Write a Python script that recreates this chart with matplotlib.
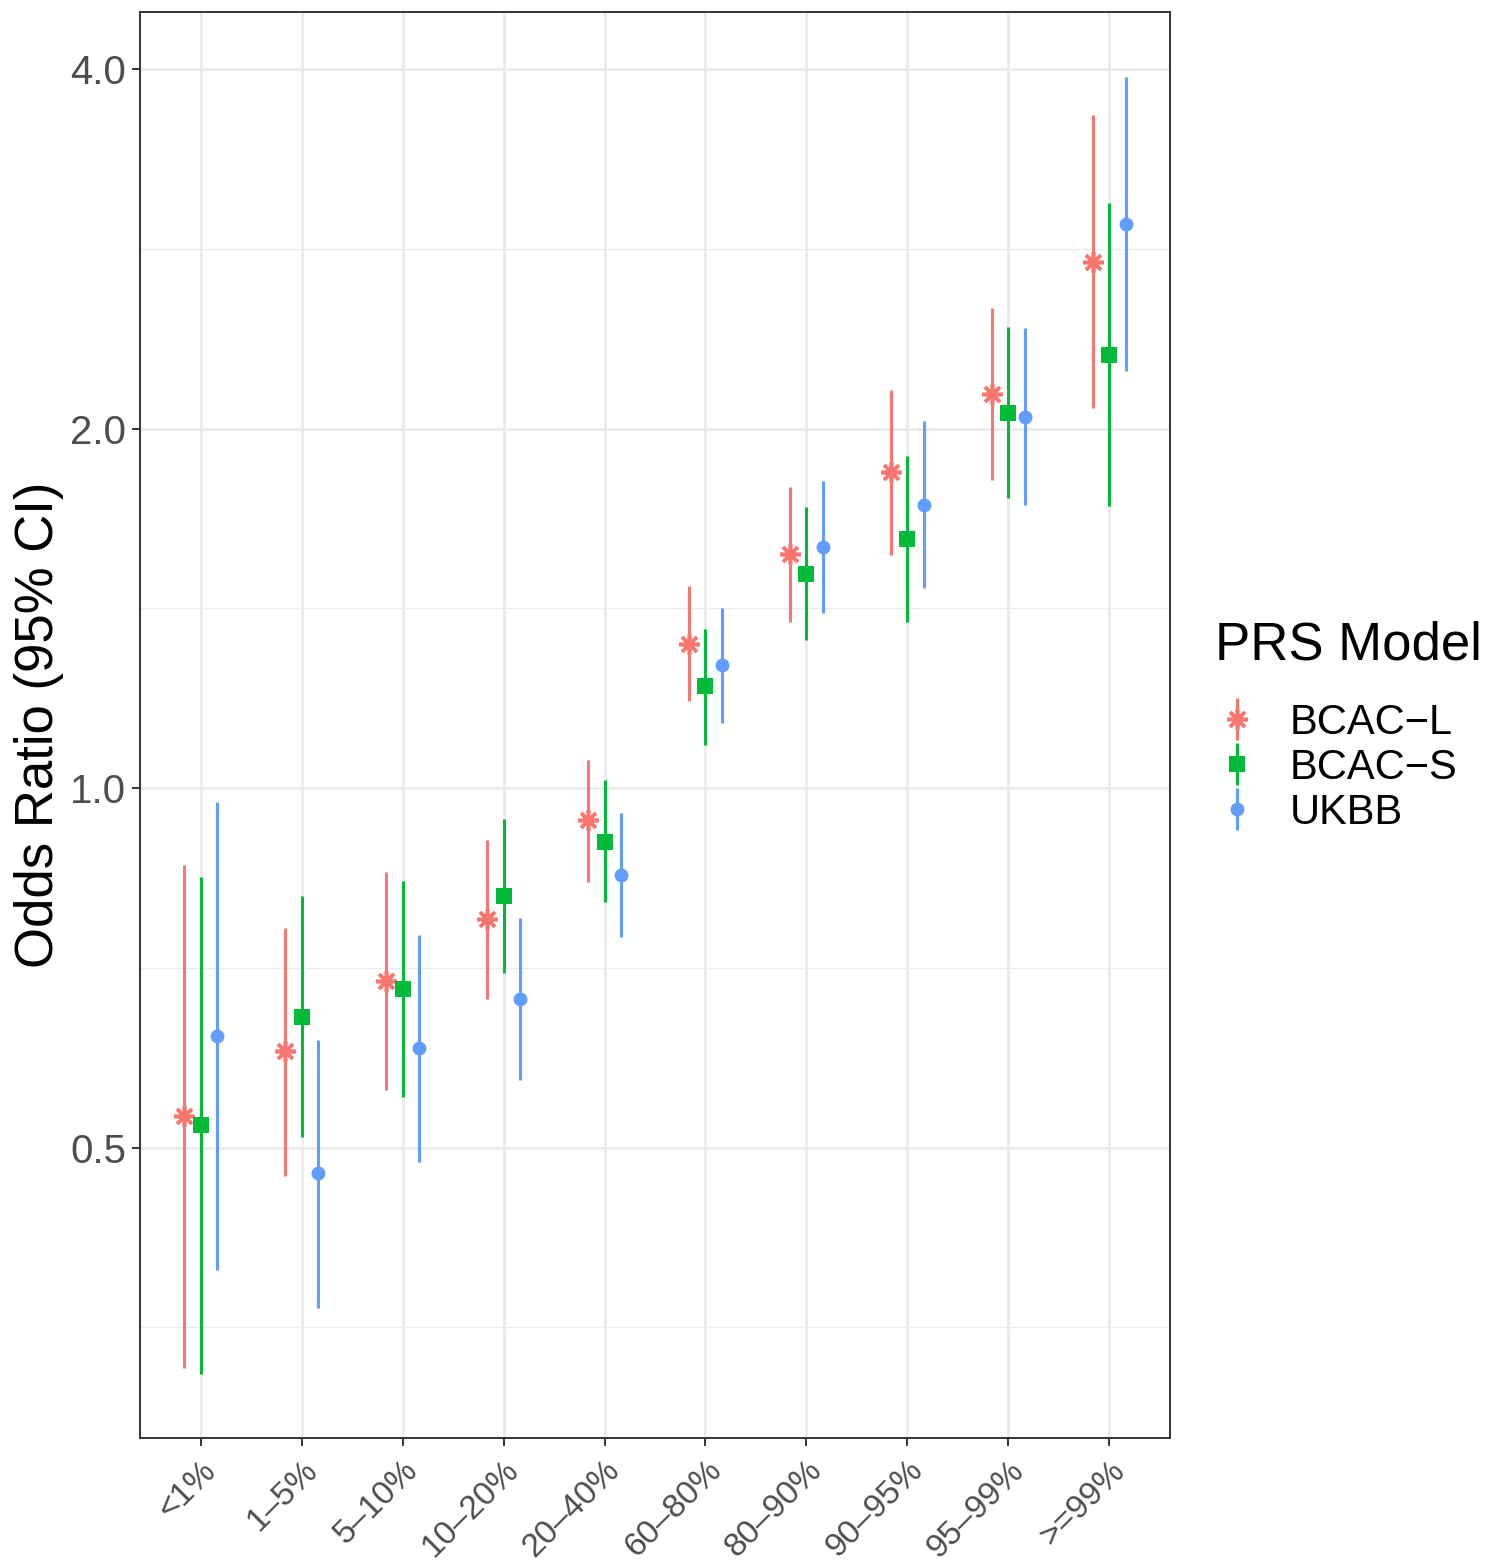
import numpy as np
import matplotlib
matplotlib.use("Agg")
import matplotlib.pyplot as plt
from matplotlib.ticker import FixedLocator, NullFormatter

plt.rcParams['font.family'] = ['Liberation Sans', 'DejaVu Sans']

categories = ["<1%", "1\u20135%", "5\u201310%", "10\u201320%", "20\u201340%",
              "60\u201380%", "80\u201390%", "90\u201395%", "95\u201399%", ">=99%"]
models = ["BCAC\u2212L", "BCAC\u2212S", "UKBB"]

or_L = [0.531, 0.602, 0.689, 0.777, 0.940, 1.320, 1.570, 1.839, 2.137, 2.757]
lo_L = [0.327, 0.473, 0.559, 0.666, 0.834, 1.183, 1.377, 1.567, 1.811, 2.081]
hi_L = [0.862, 0.763, 0.851, 0.905, 1.055, 1.476, 1.787, 2.154, 2.523, 3.661]

or_S = [0.522, 0.643, 0.679, 0.812, 0.901, 1.217, 1.511, 1.616, 2.061, 2.305]
lo_S = [0.323, 0.510, 0.551, 0.700, 0.803, 1.086, 1.330, 1.377, 1.749, 1.722]
hi_S = [0.842, 0.812, 0.836, 0.942, 1.015, 1.359, 1.719, 1.897, 2.432, 3.089]

or_U = [0.620, 0.476, 0.606, 0.666, 0.846, 1.268, 1.591, 1.726, 2.045, 2.967]
lo_U = [0.395, 0.367, 0.486, 0.569, 0.750, 1.134, 1.401, 1.470, 1.726, 2.235]
hi_U = [0.973, 0.615, 0.753, 0.778, 0.953, 1.415, 1.807, 2.029, 2.428, 3.939]

colors = ["#F8766D", "#00BA38", "#619CFF"]
markers = [(8, 2, 0), "s", "o"]
msizes = [15, 11.5, 10]
offsets = [-1 / 6, 0, 1 / 6]

W, H = 1489, 1567
fig = plt.figure(figsize=(W / 100, H / 100), dpi=100)
ax = fig.add_axes([140 / W, 1 - 1438 / H, (1170 - 140) / W, (1438 - 12) / H])

x = np.arange(len(categories))
series = [(or_L, lo_L, hi_L), (or_S, lo_S, hi_S), (or_U, lo_U, hi_U)]
handles = []
for (est, lo, hi), c, m, ms, off, lab in zip(series, colors, markers, msizes, offsets, models):
    est = np.array(est); lo = np.array(lo); hi = np.array(hi)
    h = ax.errorbar(x + off, est, yerr=[est - lo, hi - est], linestyle='none',
                    marker=m, color=c, markersize=ms, ecolor=c,
                    markeredgewidth=2.6 if m == (8, 2, 0) else 0,
                    elinewidth=2.2, capsize=0, label=lab)
    handles.append(h)

ax.set_yscale('log', base=2)
ax.set_ylim(2 ** -1.808, 2 ** 2.1586)
ax.set_xlim(-0.6, len(categories) - 0.4)
ax.yaxis.set_major_locator(FixedLocator([0.5, 1, 2, 4]))
ax.set_yticklabels(["0.5", "1.0", "2.0", "4.0"])
ax.yaxis.set_minor_locator(FixedLocator([2 ** k for k in (-1.5, -0.5, 0.5, 1.5)]))
ax.yaxis.set_minor_formatter(NullFormatter())
ax.set_xticks(x)
ax.set_xticklabels(categories, rotation=45, ha='right', va='top',
                   rotation_mode='anchor')

ax.grid(True, which='major', color='#EBEBEB', linewidth=2.0)
ax.grid(True, which='minor', axis='y', color='#EBEBEB', linewidth=1.0)
ax.set_axisbelow(True)
for s in ax.spines.values():
    s.set_color('#333333')
    s.set_linewidth(1.4)
ax.tick_params(axis='both', which='major', length=6, width=1.4, color='#333333',
               labelcolor='#4D4D4D', pad=4)
ax.tick_params(axis='y', which='major', labelsize=29)
ax.tick_params(axis='x', which='major', labelsize=24, pad=6)
ax.tick_params(axis='y', which='minor', length=0)
ax.set_ylabel("Odds Ratio (95% CI)", fontsize=38, labelpad=4)

fig.text(1215 / W, 1 - 645 / H, "PRS Model", fontsize=38, ha='left', va='center')
leg = fig.legend(handles=handles, labels=models,
                 loc='upper left', bbox_to_anchor=(1181 / W, 1 - 665 / H),
                 frameon=False, fontsize=30,
                 handlelength=0.9, handletextpad=0.8, labelspacing=0.12)

fig.savefig("out.png", dpi=100)
